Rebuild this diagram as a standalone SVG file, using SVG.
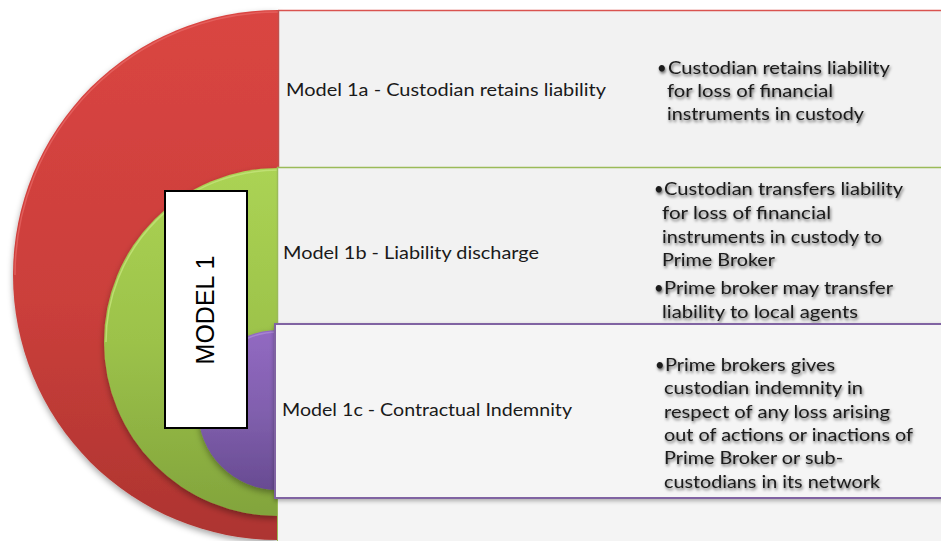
<svg xmlns="http://www.w3.org/2000/svg" width="941" height="541" viewBox="0 0 941 541">
  <defs>
    <linearGradient id="gRed" x1="0" y1="0" x2="0" y2="1">
      <stop offset="0" stop-color="#da4542"/>
      <stop offset="0.55" stop-color="#cb3f3b"/>
      <stop offset="1" stop-color="#ad3430"/>
    </linearGradient>
    <linearGradient id="gGreen" x1="0" y1="0" x2="0" y2="1">
      <stop offset="0" stop-color="#abd354"/>
      <stop offset="0.5" stop-color="#9cc24a"/>
      <stop offset="1" stop-color="#82a43c"/>
    </linearGradient>
    <linearGradient id="gPurple" x1="0" y1="0" x2="0" y2="1">
      <stop offset="0" stop-color="#9269c2"/>
      <stop offset="0.5" stop-color="#8160ae"/>
      <stop offset="1" stop-color="#684b92"/>
    </linearGradient>
    <filter id="ringShadow" x="-10%" y="-10%" width="120%" height="130%">
      <feDropShadow dx="0" dy="3" stdDeviation="3" flood-color="#000" flood-opacity="0.35"/>
    </filter>
    <filter id="panelShadow" x="-5%" y="-10%" width="110%" height="130%">
      <feDropShadow dx="0" dy="2" stdDeviation="2" flood-color="#000" flood-opacity="0.3"/>
    </filter>
    <filter id="textShadow" x="-5%" y="-30%" width="110%" height="160%">
      <feDropShadow dx="1" dy="2" stdDeviation="1.6" flood-color="#000" flood-opacity="0.6"/>
    </filter>
    <style>
      .panel { fill: #f2f2f2; }
      .label { font-family: Lato, "Open Sans", sans-serif; font-size: 16.5px; fill: #1a1a1a; }
      .note { font-family: Lato, "Open Sans", sans-serif; font-size: 16.5px; fill: #1a1a1a; filter: url(#textShadow); }
      .ring-edge { fill: none; stroke-width: 1.5; }
    </style>
  </defs>

  <rect width="941" height="541" fill="#ffffff"/>

  <!-- nested half discs -->
  <g id="rings">
    <path d="M278,10 A265,265 0 0 0 278,540 Z" fill="url(#gRed)" filter="url(#ringShadow)"/>
    <path d="M278,12 A263,263 0 0 0 15,275" class="ring-edge" stroke="#e86a66" opacity="0.7"/>
    <path d="M278,168 A174,174 0 0 0 278,516 Z" fill="url(#gGreen)" filter="url(#ringShadow)"/>
    <path d="M278,170 A172,172 0 0 0 106,342" class="ring-edge" stroke="#c4e47a" opacity="0.8"/>
    <path d="M278,330 A80,80 0 0 0 278,490 Z" fill="url(#gPurple)" filter="url(#ringShadow)"/>
    <path d="M278,332 A78,78 0 0 0 200,410" class="ring-edge" stroke="#ab8ad6" opacity="0.8"/>
  </g>

  <!-- bottom strip -->
  <rect x="277" y="498" width="664" height="43" fill="#f4f4f4"/>
  <line x1="277.5" y1="498" x2="277.5" y2="541" stroke="#9bbb59" stroke-width="1"/>

  <!-- Model 1a -->
  <g id="node-1a">
    <rect class="panel" x="278" y="10" width="663" height="157"/>
    <line x1="278" y1="10.5" x2="941" y2="10.5" stroke="#d9534f" stroke-width="1.5"/>
    <line x1="278.5" y1="10" x2="278.5" y2="167" stroke="#c0504d" stroke-width="1.5"/>
    <text class="label" x="286" y="96" textLength="320" lengthAdjust="spacingAndGlyphs">Model 1a - Custodian retains liability</text>
    <g class="note">
      <text x="657" y="74">•</text>
      <text x="668" y="74" textLength="222" lengthAdjust="spacingAndGlyphs">Custodian retains liability</text>
      <text x="667" y="97" textLength="166" lengthAdjust="spacingAndGlyphs">for loss of financial</text>
      <text x="667" y="120" textLength="197" lengthAdjust="spacingAndGlyphs">instruments in custody</text>
    </g>
  </g>

  <!-- Model 1b -->
  <g id="node-1b">
    <rect class="panel" x="277" y="167" width="664" height="157"/>
    <line x1="277" y1="167.5" x2="941" y2="167.5" stroke="#9bbb59" stroke-width="1.5"/>
    <line x1="277.5" y1="167" x2="277.5" y2="324" stroke="#9bbb59" stroke-width="1.5"/>
    <text class="label" x="283" y="259" textLength="256" lengthAdjust="spacingAndGlyphs">Model 1b - Liability discharge</text>
    <g class="note">
      <text x="654" y="195">•</text>
      <text x="664" y="195" textLength="239" lengthAdjust="spacingAndGlyphs">Custodian transfers liability</text>
      <text x="662" y="219" textLength="169" lengthAdjust="spacingAndGlyphs">for loss of financial</text>
      <text x="662" y="243" textLength="220" lengthAdjust="spacingAndGlyphs">instruments in custody to</text>
      <text x="662" y="266" textLength="113" lengthAdjust="spacingAndGlyphs">Prime Broker</text>
      <text x="654" y="294">•</text>
      <text x="664" y="294" textLength="229" lengthAdjust="spacingAndGlyphs">Prime broker may transfer</text>
      <text x="662" y="318" textLength="196" lengthAdjust="spacingAndGlyphs">liability to local agents</text>
    </g>
  </g>

  <!-- Model 1c -->
  <g id="node-1c">
    <rect x="275" y="324" width="680" height="174" fill="#f5f5f5" stroke="#8064a2" stroke-width="2" filter="url(#panelShadow)"/>
    <text class="label" x="282" y="416" textLength="290" lengthAdjust="spacingAndGlyphs">Model 1c - Contractual Indemnity</text>
    <g class="note">
      <text x="655" y="371">•</text>
      <text x="665" y="371" textLength="170" lengthAdjust="spacingAndGlyphs">Prime brokers gives</text>
      <text x="664" y="394" textLength="199" lengthAdjust="spacingAndGlyphs">custodian indemnity in</text>
      <text x="664" y="418" textLength="226" lengthAdjust="spacingAndGlyphs">respect of any loss arising</text>
      <text x="664" y="441" textLength="249" lengthAdjust="spacingAndGlyphs">out of actions or inactions of</text>
      <text x="664" y="464" textLength="179" lengthAdjust="spacingAndGlyphs">Prime Broker or sub-</text>
      <text x="664" y="488" textLength="216" lengthAdjust="spacingAndGlyphs">custodians in its network</text>
    </g>
  </g>

  <!-- title box -->
  <g id="node-model1">
    <rect x="165" y="191" width="82" height="237" fill="#ffffff" stroke="#000000" stroke-width="2"/>
    <text x="0" y="0" transform="translate(214,310) rotate(-90)" text-anchor="middle" font-family="'Liberation Sans', Arial, sans-serif" font-size="25" fill="#000000">MODEL 1</text>
  </g>
</svg>
